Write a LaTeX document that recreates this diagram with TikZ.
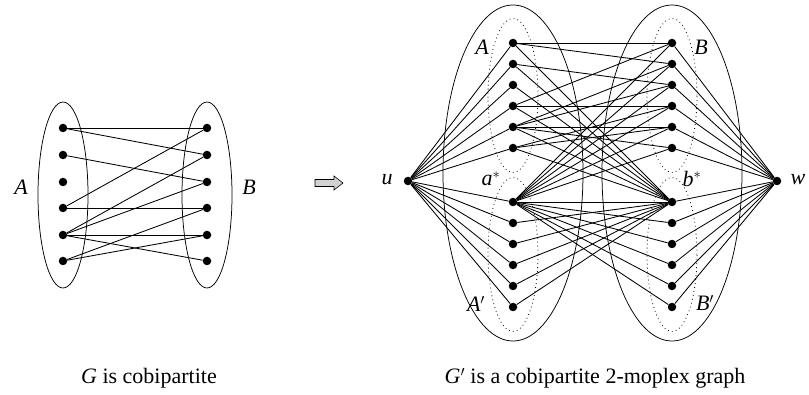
\documentclass[tikz,border=0pt]{standalone}
\usepackage{fontspec}
\setmainfont{Liberation Serif}
\begin{document}
\begin{tikzpicture}[x=1pt,y=-1pt,
  vdot/.style={circle,fill=black,inner sep=0pt,minimum size=8.5pt},
  gedge/.style={line width=0.85pt},
  outl/.style={line width=0.75pt},
  dotline/.style={line width=0.8pt,dash pattern=on 0.8pt off 3.2pt},
  lbl/.style={font=\fontsize{22}{26}\selectfont\itshape,inner sep=0pt},
  captext/.style={font=\fontsize{22}{26}\selectfont,inner sep=0pt,anchor=base}]
\useasboundingbox (0,0) rectangle (809,395);
% ---------- G ----------
\draw[outl] (63,195) ellipse [x radius=25pt,y radius=93pt];
\draw[outl] (207,195) ellipse [x radius=25pt,y radius=93pt];
\foreach \i/\y in {1/128,2/155,3/182,4/208,5/235,6/261}{
  \node[vdot] (gl\i) at (63,\y) {};
  \node[vdot] (gr\i) at (207,\y) {};
}
\foreach \a/\b in {1/1,1/2,2/3,4/1,4/4,5/2,5/3,5/5,5/6,6/4,6/5}
  \draw[gedge] (gl\a) -- (gr\b);
\node[lbl] (lA) at (21,187) {A};
\node[lbl] (lB) at (249,187) {B};
% ---------- arrow ----------
\draw[line width=0.6pt,fill=gray!35] (315,179.5) -- (334,179.5) -- (334,176) -- (343,183)
  -- (334,190) -- (334,186.5) -- (315,186.5) -- cycle;
% ---------- G' ----------
\draw[outl] (513,173) ellipse [x radius=70pt,y radius=168pt];
\draw[outl] (672,173) ellipse [x radius=70pt,y radius=168pt];
\draw[dotline] (513,95.5) ellipse [x radius=25pt,y radius=77pt];
\draw[dotline] (513,254.5) ellipse [x radius=25pt,y radius=77pt];
\draw[dotline] (672,95.5) ellipse [x radius=25pt,y radius=77pt];
\draw[dotline] (672,254.5) ellipse [x radius=25pt,y radius=77pt];
\foreach \i/\y in {1/43,2/64,3/85,4/106,5/127,6/148}{
  \node[vdot] (A\i) at (513,\y) {};
  \node[vdot] (B\i) at (672,\y) {};
}
\node[vdot] (as) at (513,202) {};
\node[vdot] (bs) at (672,202) {};
\foreach \i/\y in {1/223,2/244,3/265,4/286,5/307}{
  \node[vdot] (P\i) at (513,\y) {};
  \node[vdot] (Q\i) at (672,\y) {};
}
\node[vdot] (u) at (408,181) {};
\node[vdot] (w) at (777,181) {};
\foreach \i in {1,...,6}{
  \draw[gedge] (u) -- (A\i);
  \draw[gedge] (w) -- (B\i);
  \draw[gedge] (as) -- (B\i);
  \draw[gedge] (bs) -- (A\i);
}
\draw[gedge] (u) -- (as);
\draw[gedge] (w) -- (bs);
\draw[gedge] (as) -- (bs);
\foreach \i in {1,...,5}{
  \draw[gedge] (u) -- (P\i);
  \draw[gedge] (w) -- (Q\i);
  \draw[gedge] (as) -- (Q\i);
  \draw[gedge] (bs) -- (P\i);
}
\foreach \a/\b in {1/1,1/2,2/3,4/1,4/4,5/2,5/3,5/5,5/6,6/4,6/5}
  \draw[gedge] (A\a) -- (B\b);
% labels
\node[lbl] (lu) at (387,180) {u};
\node[lbl] (lw) at (798,180) {w};
\node[lbl] (lA2) at (482,47) {A};
\node[lbl] (lB2) at (701,47) {B};
\node[lbl] (las) at (491,179) {a$^{*}$};
\node[lbl] (lbs) at (692,179) {b$^{*}$};
\node[lbl] (lAp) at (476,304) {A$'$};
\node[lbl] (lBp) at (705,303) {B$'$};
% captions
\node[captext] (c1) at (149,384) {\textit{G} is cobipartite};
\node[captext] (c2) at (595,384) {\textit{G}$'$ is a cobipartite 2-moplex graph};
\end{tikzpicture}
\end{document}
